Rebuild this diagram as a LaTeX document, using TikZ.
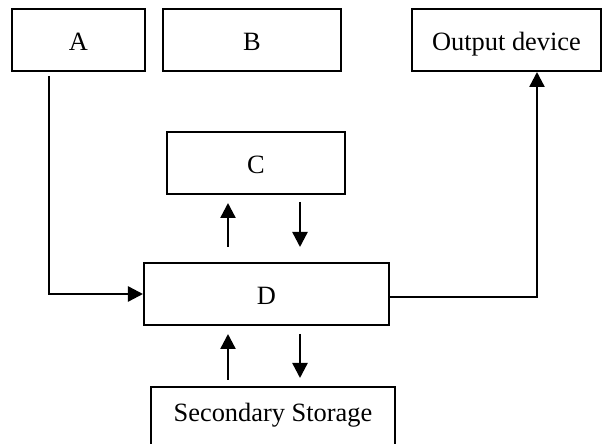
\documentclass[tikz,border=0pt]{standalone}
\usepackage{fontspec}
\setmainfont{Liberation Serif}
\usetikzlibrary{arrows.meta}

\begin{document}
\begin{tikzpicture}[
x=0.5pt, y=-0.5pt,
>={Triangle[length=7.5pt,width=7.5pt]},
unit/.style={rectangle,draw,line width=1pt,minimum height=31pt,text height=13pt,text depth=2.9pt,font=\fontsize{13.2pt}{15pt}\selectfont},
line/.style={draw,->,line width=1.2pt}
]
\useasboundingbox (0,0) rectangle (602,444);

\node[unit,minimum width=66.5pt] (A) at (78.5,40) {A};
\node[unit,minimum width=89pt] (B) at (252,40) {B};
\node[unit,minimum width=94.5pt] (out) at (506.5,40) {Output device};

\node[unit,minimum width=89pt] (C) at (256,163) {C};
\node[unit,minimum width=122.5pt] (D) at (266.5,294) {D};

\node[unit,minimum width=122pt,minimum height=0pt,anchor=north,inner ysep=4.25pt,text depth=10pt] (S) at (273,386) {Secondary Storage};

\path[line] ([xshift=-14.75pt,yshift=-2pt]A.south) |- (D.west);
\path[line] ([yshift=-1.5pt]D.east) -| ([xshift=15.25pt]out.south);

\path[line] ([xshift=-19.25pt,yshift=7.5pt]D.north) -- ([xshift=-14pt,yshift=-4pt]C.south);
\path[line] ([xshift=22pt,yshift=-3.5pt]C.south) -- ([xshift=16.75pt,yshift=7.5pt]D.north);

\path[line] ([xshift=-22.5pt,yshift=3pt]S.north) -- ([xshift=-19.25pt,yshift=-4pt]D.south);
\path[line] ([xshift=16.75pt,yshift=-4pt]D.south) -- ([xshift=13.5pt,yshift=4pt]S.north);

\end{tikzpicture}
\end{document}
